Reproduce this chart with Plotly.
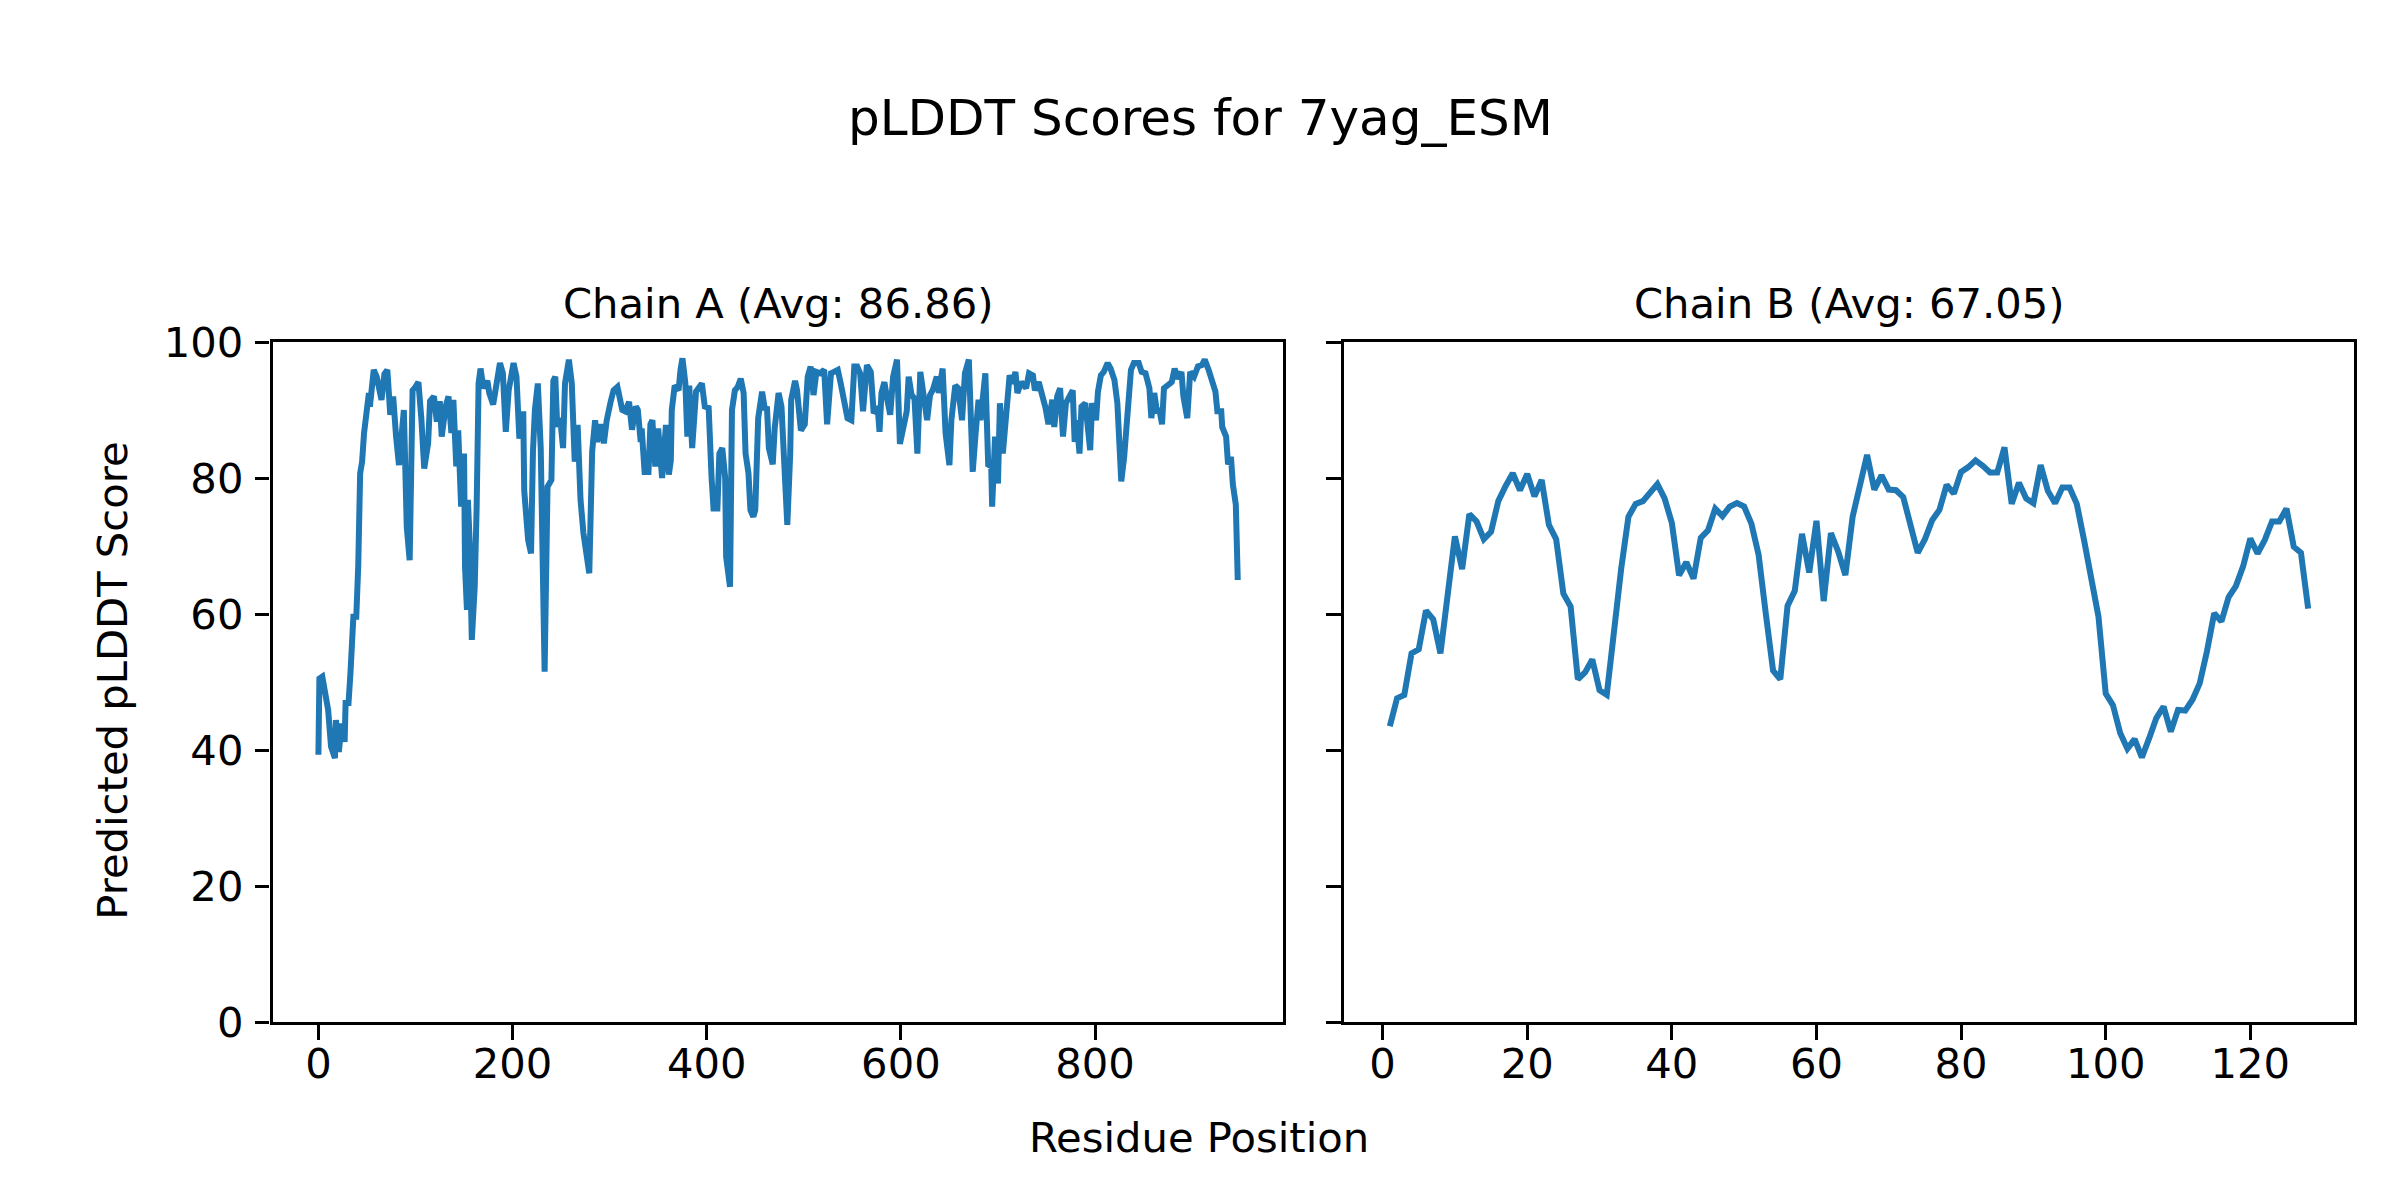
import plotly.graph_objects as go

# ---------------- data ----------------
chain_a_pos = [0, 1, 4, 8, 10, 13, 17, 18, 21, 24, 27, 28, 31, 33, 36, 39, 41, 43, 45, 47, 49, 52, 53, 57, 60, 65, 68, 71, 74, 77, 80, 83, 88, 91, 94, 97, 100, 103, 106, 109, 113, 115, 119, 122, 125, 127, 131, 134, 137, 139, 142, 144, 147,
               150, 151, 153, 154, 156, 158, 161, 163, 165, 167, 170, 174, 176, 180, 183, 187, 190, 193, 196, 201, 204, 207, 211, 212, 216, 219, 221, 223, 226, 229, 233, 236, 240, 242, 244, 246, 249, 252, 254, 258, 261, 264, 267, 270, 273, 276, 279, 282, 285, 287, 291, 294, 297, 301, 304, 308, 311,
               313, 316, 320, 323, 327, 329, 332, 333, 336, 340, 342, 344, 347, 350, 354, 358, 361, 363, 364, 367, 371, 373, 375, 378, 380, 382, 385, 389, 395, 398, 402, 405, 407, 411, 413, 416, 419, 420, 424, 426, 429, 432, 435, 438, 440, 443, 445, 448, 450, 453, 457, 460, 462, 464, 468, 470, 474,
               477, 480, 483, 486, 487, 491, 493, 497, 501, 504, 507, 510, 513, 517, 521, 524, 528, 531, 535, 538, 541, 545, 549, 552, 555, 558, 561, 565, 569, 572, 576, 578, 580, 583, 586, 589, 592, 596, 599, 603, 606, 608, 611, 614, 617, 620, 624, 627, 630,
               633, 637, 639, 643, 646, 650, 652, 656, 659, 663, 666, 670, 672, 674, 677, 680, 682, 685, 687, 690, 693, 694, 697, 700, 702, 705, 709, 712, 715, 718, 720, 724, 729, 732, 736, 738, 742, 745, 749, 752, 756, 758, 761, 764, 767, 770, 773, 777, 779, 781, 784, 786,
               790, 792, 795, 797, 801, 803, 806, 809, 813, 816, 820, 823, 827, 830, 834, 837, 840, 845, 848, 852, 856, 858, 861, 864, 866, 869, 871, 875, 879, 882, 885, 889, 891, 895, 898, 902, 906, 910, 913, 917, 920, 924, 926, 930, 931, 935, 937, 940, 942, 945, 947]
chain_a_plddt = [39.3, 50.5, 50.8, 48.1, 45.9, 40.5, 38.8, 44.4, 39.7, 43.9, 41.2, 46.9, 46.9, 51.3, 59.6, 59.6, 67.0, 80.7, 82.4, 86.6, 90.0, 92.5, 90.5, 95.9, 94.9, 91.5, 95.3, 95.9, 89.3, 92.0, 86.1, 81.9, 90.0, 72.8, 67.9, 92.9, 93.4, 94.1, 88.8, 81.4, 85.1, 91.3, 92.0, 88.3, 91.3, 86.1, 90.5, 92.0, 86.6, 91.5, 81.7, 87.0, 75.8,
                 83.6, 67.0, 60.6, 76.8, 69.9, 56.2, 64.0, 75.8, 93.9, 96.1, 93.2, 94.3, 92.5, 90.8, 93.9, 96.9, 95.4, 86.8, 92.9, 96.9, 94.9, 85.8, 89.8, 78.2, 70.9, 68.9, 83.9, 90.0, 93.9, 84.4, 51.5, 78.7, 79.7, 94.3, 94.9, 87.5, 88.8, 84.4, 93.9, 97.4, 93.9, 82.4, 87.8, 76.8, 71.9, 68.9, 66.0, 83.9, 88.5, 85.3, 87.9, 85.1, 88.5, 91.2, 92.9, 93.4, 90.5,
                 90.0, 89.8, 91.2, 87.1, 90.5, 90.0, 85.3, 87.3, 80.9, 80.9, 87.9, 88.5, 81.7, 87.3, 80.0, 87.8, 80.5, 82.6, 90.0, 93.6, 92.9, 95.9, 97.6, 93.9, 86.1, 93.6, 84.4, 92.7, 93.9, 90.5, 90.3, 80.0, 75.5, 75.5, 83.6, 84.4, 80.0, 68.4, 64.0, 90.0, 92.9, 93.4, 94.6, 92.5, 83.6, 80.7, 75.3, 74.3, 75.3, 88.8, 92.7, 90.0, 90.5, 84.4, 82.0, 87.3, 92.5,
                 90.5, 80.2, 73.1, 83.6, 91.5, 94.3, 92.9, 87.0, 87.9, 94.9, 96.4, 92.2, 95.6, 95.4, 95.9, 87.9, 95.4, 95.6, 95.9, 93.9, 91.5, 88.8, 88.5, 96.4, 96.4, 95.4, 89.8, 96.6, 95.6, 89.5, 90.5, 86.8, 92.5, 94.1, 91.5, 89.3, 94.9, 97.4, 85.0, 88.5, 89.8, 94.9, 92.2, 91.7, 83.6, 95.6, 91.5, 88.5, 92.2,
                 93.0, 94.9, 92.5, 96.1, 86.6, 81.9, 88.5, 93.6, 93.2, 88.5, 95.4, 97.4, 90.5, 80.9, 86.6, 91.5, 88.5, 93.9, 95.4, 81.7, 82.0, 75.8, 86.1, 79.2, 91.0, 83.6, 91.3, 95.1, 93.9, 95.6, 92.5, 94.1, 93.2, 95.4, 95.1, 92.9, 94.1, 92.5, 90.3, 87.9, 91.5, 87.5, 92.0, 93.2, 86.1, 91.0, 92.0, 92.9, 85.3, 88.5, 83.6, 90.5,
                 91.0, 87.0, 84.1, 91.0, 88.5, 92.7, 95.1, 95.6, 96.9, 96.1, 94.4, 91.0, 79.5, 83.1, 92.2, 95.9, 96.9, 96.9, 95.6, 95.4, 93.2, 88.8, 92.5, 89.5, 90.3, 87.9, 93.2, 93.6, 94.1, 96.1, 94.6, 95.6, 92.0, 88.8, 95.6, 94.9, 96.4, 96.6, 97.4, 95.9, 94.4, 92.7, 89.8, 89.8, 87.5, 86.1, 82.0, 83.1, 79.0, 76.1, 65.0]

chain_b_pos = list(range(1, 129))
chain_b_plddt = [43.5, 47.6, 48.1, 54.2, 54.8, 60.5, 59.2, 54.2, 62.8, 71.4,
                 66.6, 74.7, 73.6, 71.0, 72.1, 76.6, 78.8, 80.7, 78.2, 80.6,
                 77.3, 79.7, 73.1, 71.0, 63.0, 61.1, 50.4, 51.4, 53.3, 48.8,
                 48.1, 57.5, 66.7, 74.3, 76.2, 76.6, 77.8, 79.1, 77.0, 73.4,
                 65.7, 67.6, 65.2, 71.2, 72.3, 75.5, 74.4, 75.8, 76.3, 75.8,
                 73.3, 68.7, 60.0, 51.7, 50.4, 61.2, 63.4, 71.8, 66.1, 73.7,
                 61.9, 71.9, 69.2, 65.7, 74.3, 78.8, 83.4, 78.3, 80.4, 78.3,
                 78.2, 77.2, 72.9, 69.0, 71.0, 73.8, 75.3, 79.0, 77.7, 80.9,
                 81.6, 82.6, 81.8, 80.8, 80.8, 84.5, 76.2, 79.3, 77.0, 76.3,
                 81.9, 78.1, 76.3, 78.6, 78.6, 76.2, 70.9, 65.7, 59.6, 48.3,
                 46.6, 42.5, 40.2, 41.6, 38.9, 41.7, 44.7, 46.4, 42.7, 45.9,
                 45.8, 47.4, 49.8, 54.5, 60.1, 58.9, 62.5, 64.1, 67.0, 71.1,
                 68.9, 70.9, 73.6, 73.6, 75.5, 69.9, 69.0, 60.8]

fig_title = "pLDDT Scores for 7yag_ESM"
title_a = "Chain A (Avg: 86.86)"
title_b = "Chain B (Avg: 67.05)"
x_label = "Residue Position"
y_label = "Predicted pLDDT Score"
ticks_a = [0, 200, 400, 600, 800]
ticks_b = [0, 20, 40, 60, 80, 100, 120]
ticks_y = [0, 20, 40, 60, 80, 100]

# ---------------- style ----------------
W, H = 2400, 1200
OFF = 8  # page body margin offset
FONT = "DejaVu Sans"
BLUE = "#1f77b4"
TICK_PX = 41.7
TITLE_PX = 50
LW = 3.3


def px_x(px):
    return (px - OFF) / W


def px_y(py):
    return (H - (py - OFF)) / H


fig = go.Figure()
fig.add_trace(go.Scatter(x=chain_a_pos, y=chain_a_plddt, mode="lines",
                         line=dict(color=BLUE, width=6), xaxis="x", yaxis="y",
                         showlegend=False))
fig.add_trace(go.Scatter(x=chain_b_pos, y=chain_b_plddt, mode="lines",
                         line=dict(color=BLUE, width=6), xaxis="x2", yaxis="y2",
                         showlegend=False))

ydom = [px_y(1022), px_y(342)]
xa_dom = [px_x(272.5), px_x(1282.7)]
xb_dom = [px_x(1343.9), px_x(2354.1)]

common = dict(showgrid=False, zeroline=False, showline=True, linecolor="black",
              linewidth=LW, mirror=True, ticks="outside", ticklen=14.6,
              tickwidth=LW, tickcolor="black", automargin=False,
              tickfont=dict(family=FONT, size=TICK_PX, color="black"))

fig.update_layout(
    template="none",
    width=W, height=H, autosize=False,
    margin=dict(l=0, r=0, t=0, b=0, pad=0, autoexpand=False),
    paper_bgcolor="white", plot_bgcolor="white",
    font=dict(family=FONT, color="black"),
    showlegend=False,
    xaxis=dict(domain=xa_dom, range=[-47.3, 993.3], tickvals=ticks_a,
               anchor="y", ticklabelstandoff=-12, **common),
    yaxis=dict(domain=ydom, range=[0, 100], tickvals=ticks_y, anchor="x",
               ticklabelstandoff=3, **common),
    xaxis2=dict(domain=xb_dom, range=[-5.35, 134.35], tickvals=ticks_b,
                anchor="y2", ticklabelstandoff=-12, **common),
    yaxis2=dict(domain=ydom, range=[0, 100], tickvals=ticks_y, anchor="x2",
                showticklabels=False, **common),
)

ann = []
ann.append(dict(text=fig_title, x=px_x(1200), y=px_y(118), xref="paper", yref="paper",
                showarrow=False, xanchor="center", yanchor="middle",
                font=dict(family=FONT, size=TITLE_PX, color="black")))
ann.append(dict(text=title_a, x=(xa_dom[0] + xa_dom[1]) / 2, y=px_y(303),
                xref="paper", yref="paper", showarrow=False, xanchor="center",
                yanchor="middle", font=dict(family=FONT, size=TICK_PX, color="black")))
ann.append(dict(text=title_b, x=(xb_dom[0] + xb_dom[1]) / 2, y=px_y(303),
                xref="paper", yref="paper", showarrow=False, xanchor="center",
                yanchor="middle", font=dict(family=FONT, size=TICK_PX, color="black")))
ann.append(dict(text=x_label, x=px_x(1198.5), y=px_y(1137), xref="paper", yref="paper",
                showarrow=False, xanchor="center", yanchor="middle",
                font=dict(family=FONT, size=TICK_PX, color="black")))
ann.append(dict(text=y_label, x=px_x(111.7), y=px_y(681), xref="paper", yref="paper",
                showarrow=False, xanchor="center", yanchor="middle", textangle=-90,
                font=dict(family=FONT, size=TICK_PX, color="black")))
fig.update_layout(annotations=ann)

fig.write_html("out.html")
